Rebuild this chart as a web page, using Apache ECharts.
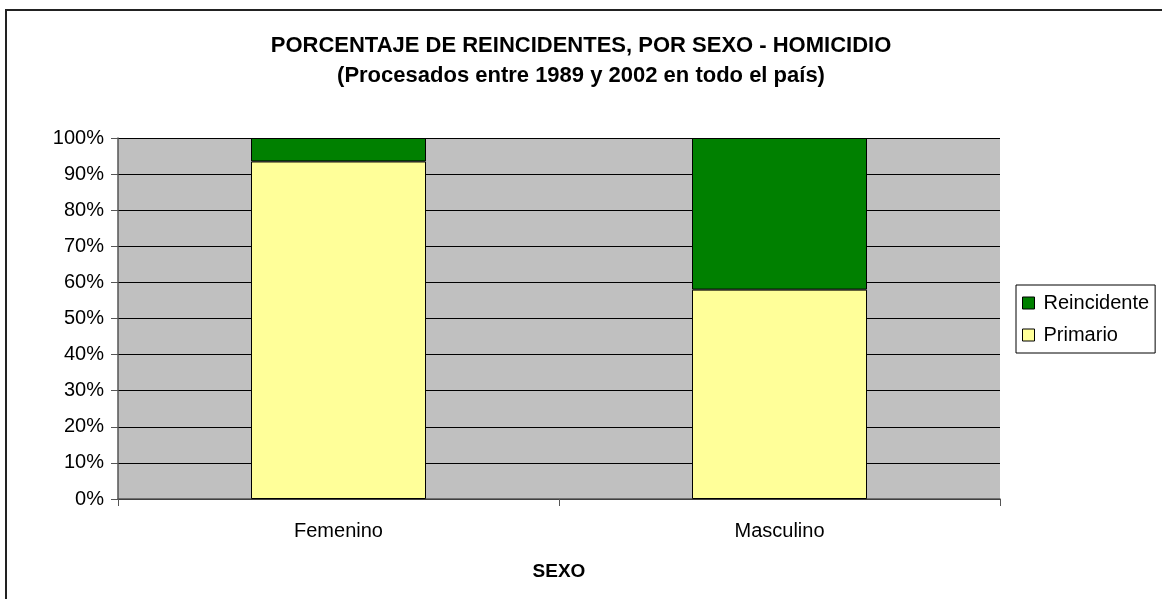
<!DOCTYPE html>
<html>
<head>
<meta charset="utf-8">
<script src="https://cdn.jsdelivr.net/npm/echarts@6/dist/echarts.min.js"></script>
<style>
html,body{margin:0;padding:0;background:#fff;}
#chart{width:1162px;height:599px;}
</style>
</head>
<body>
<div id="chart"></div>
<script>
const categories = ['Femenino', 'Masculino'];
const primario = [93.5, 58.0];
const reincidente = [6.5, 42.0];
const titleText = 'PORCENTAJE DE REINCIDENTES, POR SEXO - HOMICIDIO';
const subtitleText = '(Procesados entre 1989 y 2002 en todo el país)';
const xAxisName = 'SEXO';

const chart = echarts.init(document.getElementById('chart'));
const font = 'Liberation Sans, Arial, sans-serif';
chart.setOption({
  animation: false,
  backgroundColor: '#ffffff',
  graphic: [
    { type: 'rect', shape: { x: 6, y: 10, width: 1170, height: 600 },
      style: { fill: 'none', stroke: '#222', lineWidth: 2 }, z: 100 }
  ],
  title: [
    { text: titleText, left: 'center', top: 30,
      textStyle: { fontFamily: font, fontSize: 22, fontWeight: 'bold', color: '#000' } },
    { text: subtitleText, left: 'center', top: 60,
      textStyle: { fontFamily: font, fontSize: 22, fontWeight: 'bold', color: '#000' } }
  ],
  legend: {
    orient: 'vertical', left: 1016, top: 285,
    data: ['Reincidente', 'Primario'],
    icon: 'rect', itemWidth: 12, itemHeight: 12, itemGap: 12,
    padding: [8, 6, 8, 6],
    borderColor: '#000', borderWidth: 1, backgroundColor: '#fff',
    itemStyle: { borderColor: '#000', borderWidth: 1 },
    textStyle: { fontFamily: font, fontSize: 20, color: '#000', lineHeight: 20, padding: [0, 0, 0, 4] }
  },
  grid: { left: 118, top: 138, width: 882, height: 361, show: true,
    backgroundColor: '#c0c0c0', borderColor: '#808080', borderWidth: 0 },
  xAxis: {
    type: 'category', data: categories,
    name: xAxisName, nameLocation: 'middle', nameGap: 63,
    nameTextStyle: { fontFamily: font, fontSize: 19, fontWeight: 'bold', color: '#000' },
    axisLine: { lineStyle: { color: '#555', width: 1.5 } },
    axisTick: { show: true, length: 7, lineStyle: { color: '#555' } },
    axisLabel: { fontFamily: font, fontSize: 20, color: '#000', margin: 22 }
  },
  yAxis: {
    type: 'value', min: 0, max: 100, interval: 10,
    axisLine: { show: true, lineStyle: { color: '#555', width: 1.5 } },
    axisTick: { show: true, length: 7, lineStyle: { color: '#555' } },
    axisLabel: { fontFamily: font, fontSize: 20, color: '#000', margin: 14, formatter: '{value}%' },
    splitLine: { show: true, lineStyle: { color: '#000', width: 1 } }
  },
  series: [
    { name: 'Primario', type: 'bar', stack: 'total', data: primario, barWidth: 175,
      itemStyle: { color: '#ffff99', borderColor: '#000', borderWidth: 1 } },
    { name: 'Reincidente', type: 'bar', stack: 'total', data: reincidente, barWidth: 175,
      itemStyle: { color: '#008000', borderColor: '#000', borderWidth: 1 } }
  ]
});
</script>
</body>
</html>
